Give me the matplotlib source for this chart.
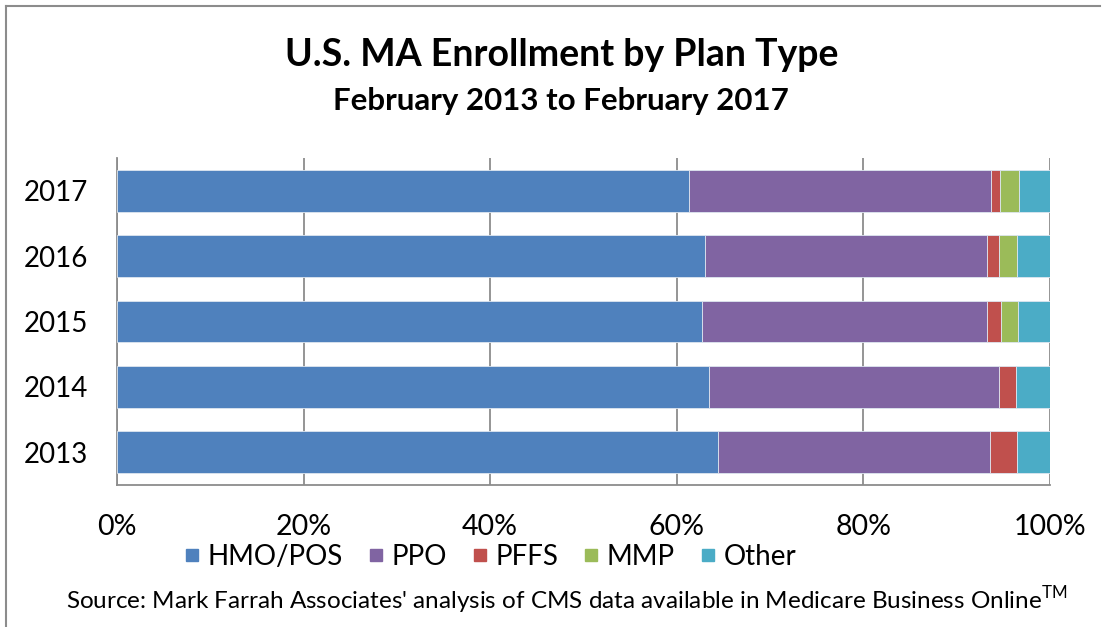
import matplotlib
matplotlib.use("Agg")
import matplotlib.pyplot as plt
from matplotlib.lines import Line2D
import numpy as np

years = ["2013", "2014", "2015", "2016", "2017"]
hmo_pos = [64.4, 63.4, 62.7, 63.0, 61.3]
ppo = [29.2, 31.1, 30.6, 30.2, 32.4]
pffs = [2.9, 1.9, 1.5, 1.3, 0.9]
mmp = [0.0, 0.0, 1.8, 2.0, 2.1]
other = [3.5, 3.6, 3.4, 3.5, 3.3]
series_names = ["HMO/POS", "PPO", "PFFS", "MMP", "Other"]
colors = ["#4F81BD", "#8064A2", "#C0504D", "#9BBB59", "#4BACC6"]
xticks = [0, 20, 40, 60, 80, 100]

plt.rcParams['font.family'] = ['Lato', 'DejaVu Sans']

fig = plt.figure(figsize=(11.07, 6.27), dpi=100)
ax = fig.add_axes([117/1107, 1-485/627, (1050-117)/1107, (485-158)/627])

series = [hmo_pos, ppo, pffs, mmp, other]
ypos = np.arange(len(years))
left = np.zeros(len(years))
for vals, c in zip(series, colors):
    v = np.array(vals)
    ax.barh(ypos, v, left=left, height=0.64, color=c, edgecolor="#dde6f0", linewidth=0.6, zorder=3)
    left += v

ax.set_xlim(0, 100)
ax.set_ylim(-0.5, 4.5)
ax.set_yticks(ypos)
ax.set_yticklabels(years, fontsize=20)
ax.set_xticks(xticks)
ax.set_xticklabels([f"{t}%" for t in xticks], fontsize=20.5)
ax.tick_params(axis='y', length=0, pad=21)
ax.tick_params(axis='x', length=0, pad=21)
ax.grid(axis='x', color="#8c8c8c", linewidth=1.3, zorder=0)
for s in ["top", "right"]:
    ax.spines[s].set_visible(False)
for s in ["left", "bottom"]:
    ax.spines[s].set_color("#8c8c8c")
    ax.spines[s].set_linewidth(1.3)

fig.text(0.507, 1-55/627, "U.S. MA Enrollment by Plan Type", ha="center", va="center",
         fontsize=27, fontweight="bold")
fig.text(0.507, 1-101/627, "February 2013 to February 2017", ha="center", va="center",
         fontsize=22.5, fontweight="bold")

handles = [Line2D([0], [0], marker="s", linestyle="none", markersize=9,
                  markerfacecolor=c, markeredgecolor=c) for c in colors]
fig.legend(handles, series_names, loc="center", bbox_to_anchor=(0.44, 1-557/627),
           ncol=5, frameon=False, fontsize=20, handletextpad=0.05, columnspacing=0.7,
           handlelength=1.0, borderaxespad=0)

fig.text(0.512, 1-600/627, "Source: Mark Farrah Associates' analysis of CMS data available in Medicare Business Online$^{\\mathregular{TM}}$",
         ha="center", va="center", fontsize=17.5)

# chart frame (top and left edges)
fig.add_artist(Line2D([6/1107, 1100/1107], [1-6/627, 1-6/627], color="#8c8c8c", linewidth=1.5))
fig.add_artist(Line2D([6/1107, 6/1107], [1-6/627, 0], color="#8c8c8c", linewidth=1.5))

fig.savefig("out.png", dpi=100)
